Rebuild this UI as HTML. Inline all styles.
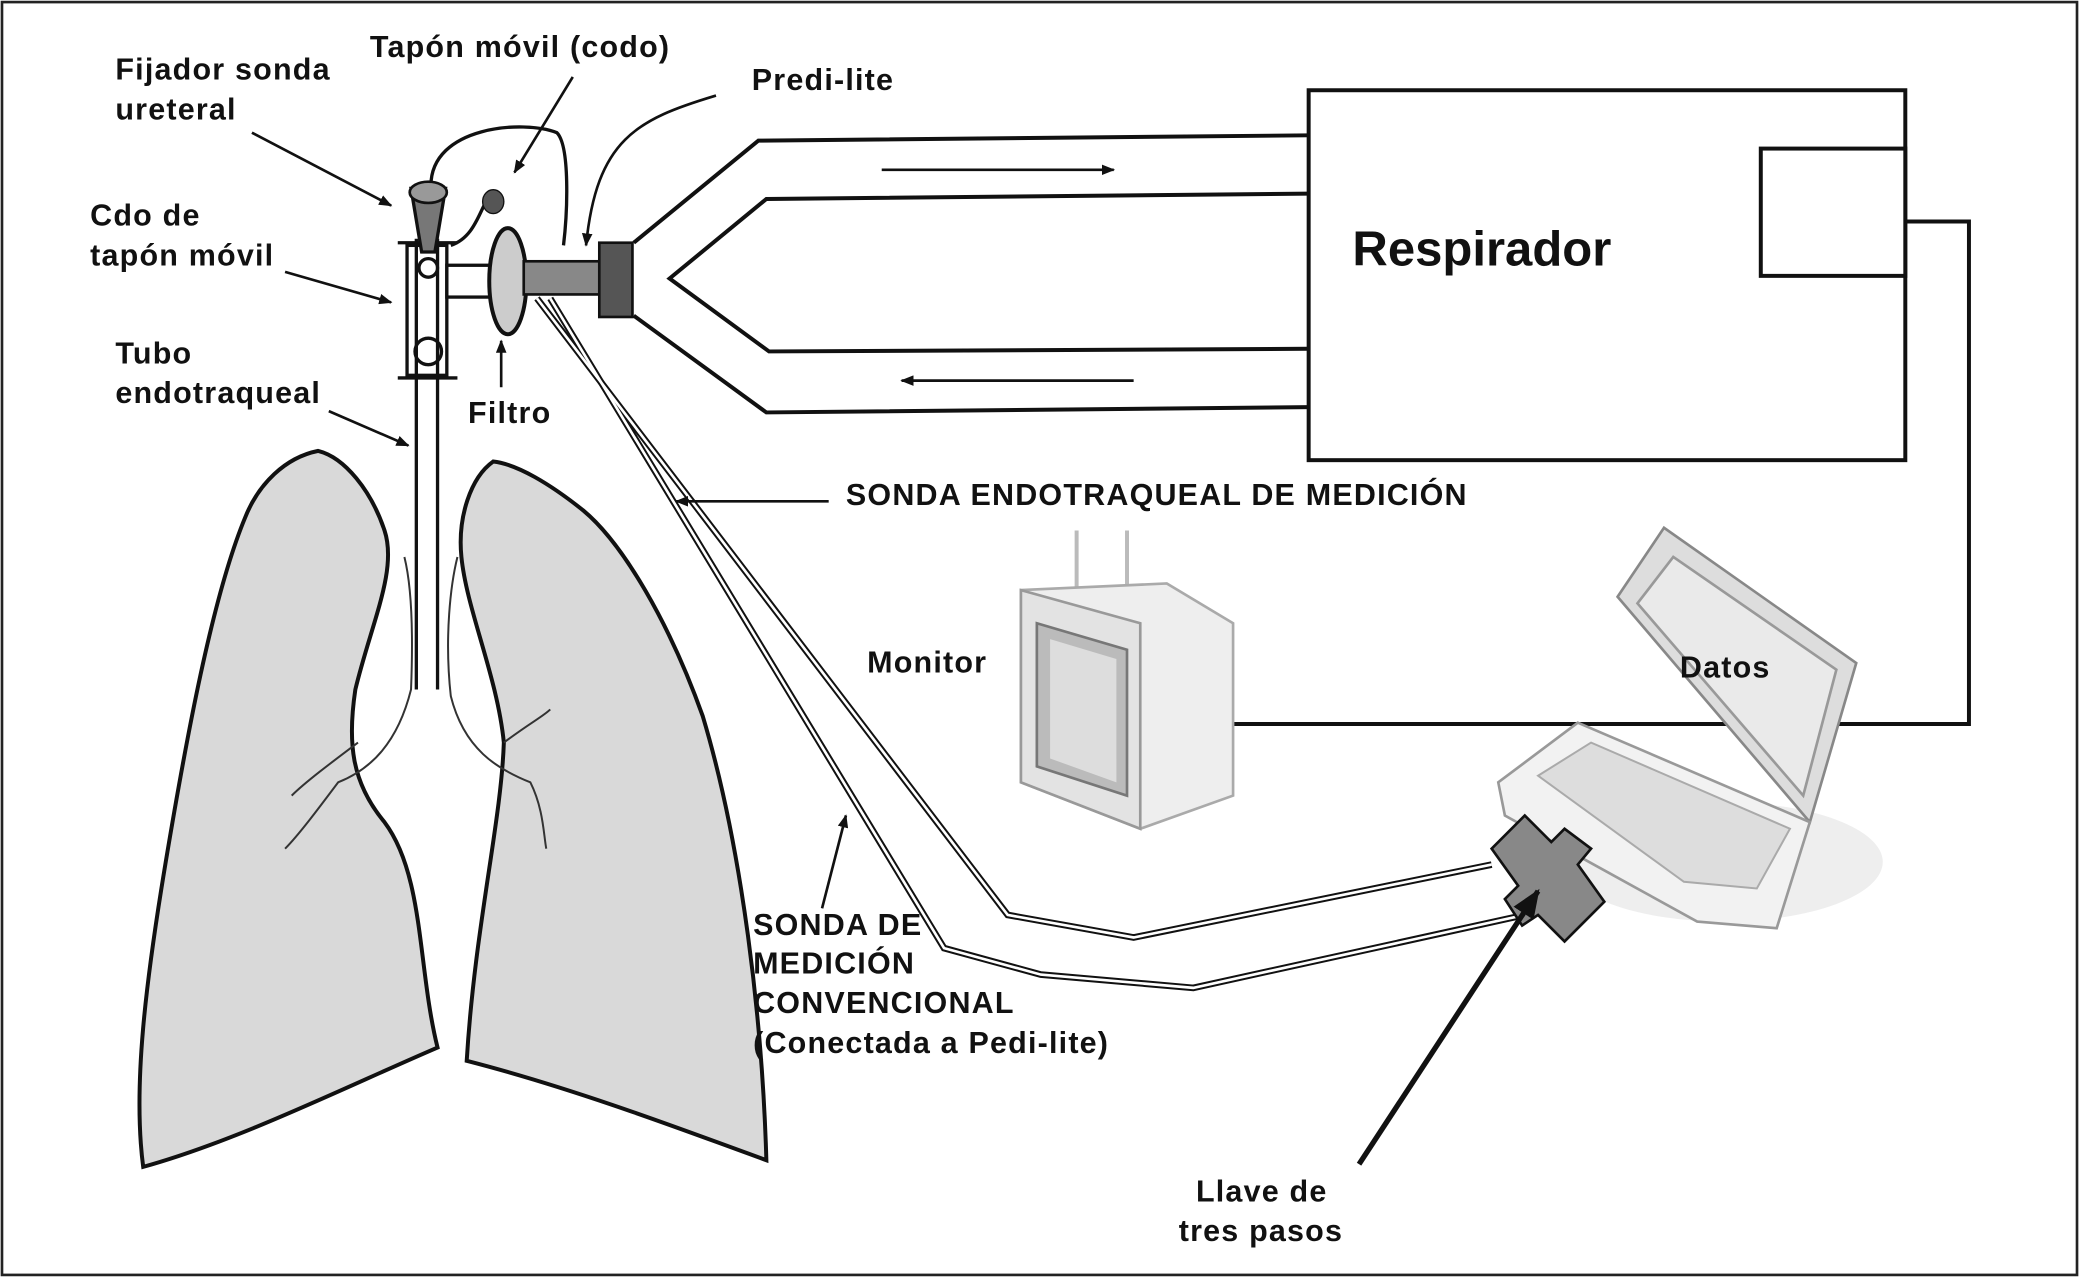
<!DOCTYPE html>
<html><head><meta charset="utf-8"><style>
html,body{margin:0;padding:0;background:#fff;}
svg{display:block;}
text{font-family:"Liberation Sans",Arial,sans-serif;font-weight:bold;fill:#111;}
</style></head><body>
<svg width="2079" height="1277" viewBox="0 0 1568 963" xmlns="http://www.w3.org/2000/svg">
<defs>
<marker id="ah" markerWidth="10" markerHeight="8" refX="9" refY="4" orient="auto" markerUnits="userSpaceOnUse"><path d="M0,0 L10,4 L0,8 z" fill="#111"/></marker>
<marker id="ah2" markerWidth="22" markerHeight="18" refX="20" refY="9" orient="auto" markerUnits="userSpaceOnUse"><path d="M0,0 L22,9 L0,18 z" fill="#111"/></marker>
</defs>
<rect x="1.5" y="1.5" width="1565" height="960" fill="#fff" stroke="#222" stroke-width="2"/>

<rect x="987" y="68" width="450" height="279" fill="#fff" stroke="#111" stroke-width="3"/>
<rect x="1328" y="112" width="109" height="96" fill="#fff" stroke="#111" stroke-width="3"/>
<polyline points="1437,167 1485,167 1485,546 930,546" fill="none" stroke="#111" stroke-width="3"/>
<text x="1020" y="200" font-size="37">Respirador</text>

<g fill="none" stroke="#111" stroke-width="3">
<polyline points="987,102 572,106 478,183"/>
<polyline points="987,146 578,150 505,210 580,265 987,263"/>
<polyline points="478,238 578,311 987,307"/>
</g>
<line x1="665" y1="128" x2="840" y2="128" stroke="#111" stroke-width="2" marker-end="url(#ah)"/>
<line x1="855" y1="287" x2="680" y2="287" stroke="#111" stroke-width="2" marker-end="url(#ah)"/>

<g>
<line x1="812" y1="400" x2="812" y2="460" stroke="#bbb" stroke-width="3"/>
<line x1="850" y1="400" x2="850" y2="460" stroke="#bbb" stroke-width="3"/>
<polygon points="770,445 880,440 930,470 930,600 860,625 770,590" fill="#eee" stroke="#aaa" stroke-width="2"/>
<polygon points="770,445 860,470 860,625 770,590" fill="#e3e3e3" stroke="#999" stroke-width="2"/>
<polygon points="782,470 850,490 850,600 782,578" fill="#bbb" stroke="#777" stroke-width="2"/>
<polygon points="792,482 842,497 842,590 792,572" fill="#ddd"/>
</g>

<g>
<ellipse cx="1300" cy="650" rx="120" ry="45" fill="#eee"/>
<polygon points="1220,450 1255,398 1400,500 1365,620" fill="#ddd" stroke="#888" stroke-width="2"/>
<polygon points="1235,455 1262,420 1385,505 1360,600" fill="#eaeaea" stroke="#999" stroke-width="2"/>
<polygon points="1190,545 1365,620 1340,700 1280,695 1135,615 1130,590" fill="#f2f2f2" stroke="#999" stroke-width="2"/>
<polygon points="1160,585 1200,560 1350,625 1325,670 1270,665" fill="#ddd" stroke="#aaa" stroke-width="1.5"/>
</g>

<path d="M240,340 C215,345 195,365 185,390 C160,450 140,560 125,650 C110,740 100,820 108,880 C180,860 260,820 330,790 C315,730 320,660 290,620 C265,590 262,560 268,520 C280,470 300,430 290,400 C280,370 260,345 240,340 Z" fill="#d9d9d9" stroke="#111" stroke-width="3"/>
<path d="M372,348 C355,360 345,390 348,420 C352,460 375,510 380,560 C378,620 358,700 352,800 C430,820 510,850 578,875 C575,770 560,640 530,540 C505,470 470,410 440,385 C415,365 390,350 372,348 Z" fill="#d9d9d9" stroke="#111" stroke-width="3"/>
<g fill="none" stroke="#333" stroke-width="1.5">
<path d="M305,420 C310,440 312,470 310,520 C300,560 280,580 255,590 C240,610 225,630 215,640"/>
<path d="M345,420 C340,440 335,480 340,525 C350,565 375,580 400,590 C410,610 410,630 412,640"/>
<path d="M270,560 C250,575 230,590 220,600"/>
<path d="M380,560 C400,545 410,540 415,535"/>
</g>

<g stroke="#111" stroke-width="2.5" fill="none">
<line x1="314" y1="180" x2="314" y2="520"/>
<line x1="330" y1="180" x2="330" y2="520"/>
<line x1="300" y1="183" x2="345" y2="183"/>
<line x1="300" y1="285" x2="345" y2="285"/>
<rect x="307" y="185" width="30" height="98"/>
<rect x="337" y="200" width="40" height="24"/>
<circle cx="323" cy="265" r="10"/>
<circle cx="323" cy="202" r="7"/>
<path d="M310,142 L336,142 L328,190 L318,190 Z" fill="#777"/>
<path d="M325,140 C325,95 395,90 420,100 C430,110 428,160 425,185" />
<path d="M340,185 C355,180 360,165 365,155"/>
</g>
<ellipse cx="323" cy="145" rx="14" ry="8" fill="#999" stroke="#111" stroke-width="2"/>
<ellipse cx="372" cy="152" rx="8" ry="9" fill="#555" stroke="#111" stroke-width="1"/>
<ellipse cx="383" cy="212" rx="14" ry="40" fill="#ccc" stroke="#111" stroke-width="3"/>
<rect x="395" y="197" width="57" height="25" fill="#888" stroke="#111" stroke-width="2"/>
<rect x="452" y="183" width="25" height="56" fill="#555" stroke="#111" stroke-width="2"/>

<g fill="none" stroke="#111" stroke-width="5">
<polyline points="405,225 760,690 855,707 1125,652"/>
<polyline points="415,225 712,715 785,735 900,745 1150,690"/>
</g>
<g fill="none" stroke="#fff" stroke-width="2">
<polyline points="405,225 760,690 855,707 1125,652"/>
<polyline points="415,225 712,715 785,735 900,745 1150,690"/>
</g>

<polygon points="1125,640 1150,615 1170,635 1180,625 1200,640 1190,652 1210,680 1180,710 1160,690 1148,698 1135,678 1145,668" fill="#888" stroke="#111" stroke-width="2"/>
<line x1="1025" y1="878" x2="1160" y2="672" stroke="#111" stroke-width="4" marker-end="url(#ah2)"/>

<g stroke="#111" stroke-width="2" fill="none">
<line x1="190" y1="100" x2="295" y2="155" marker-end="url(#ah)"/>
<line x1="215" y1="205" x2="295" y2="228" marker-end="url(#ah)"/>
<line x1="248" y1="310" x2="308" y2="336" marker-end="url(#ah)"/>
<line x1="432" y1="58" x2="388" y2="130" marker-end="url(#ah)"/>
<path d="M540,72 C480,90 450,105 442,185" marker-end="url(#ah)"/>
<line x1="625" y1="378" x2="510" y2="378" marker-end="url(#ah)"/>
<line x1="620" y1="685" x2="638" y2="615" marker-end="url(#ah)"/>
<line x1="378" y1="292" x2="378" y2="257" marker-end="url(#ah)"/>
</g>

<g font-size="23" letter-spacing="0.9">
<text x="279" y="43">Tapón móvil (codo)</text>
<text x="87" y="60">Fijador sonda</text>
<text x="87" y="90">ureteral</text>
<text x="567" y="68">Predi-lite</text>
<text x="68" y="170">Cdo de</text>
<text x="68" y="200">tapón móvil</text>
<text x="87" y="274">Tubo</text>
<text x="87" y="304">endotraqueal</text>
<text x="353" y="319">Filtro</text>
<text x="638" y="381">SONDA ENDOTRAQUEAL DE MEDICIÓN</text>
<text x="654" y="507">Monitor</text>
<text x="1267" y="511">Datos</text>
<text x="568" y="705">SONDA DE</text>
<text x="568" y="734">MEDICIÓN</text>
<text x="568" y="764">CONVENCIONAL</text>
<text x="568" y="794" font-weight="normal">(Conectada a Pedi-lite)</text>
<text x="902" y="906">Llave de</text>
<text x="889" y="936">tres pasos</text>
</g>
</svg>
</body></html>
